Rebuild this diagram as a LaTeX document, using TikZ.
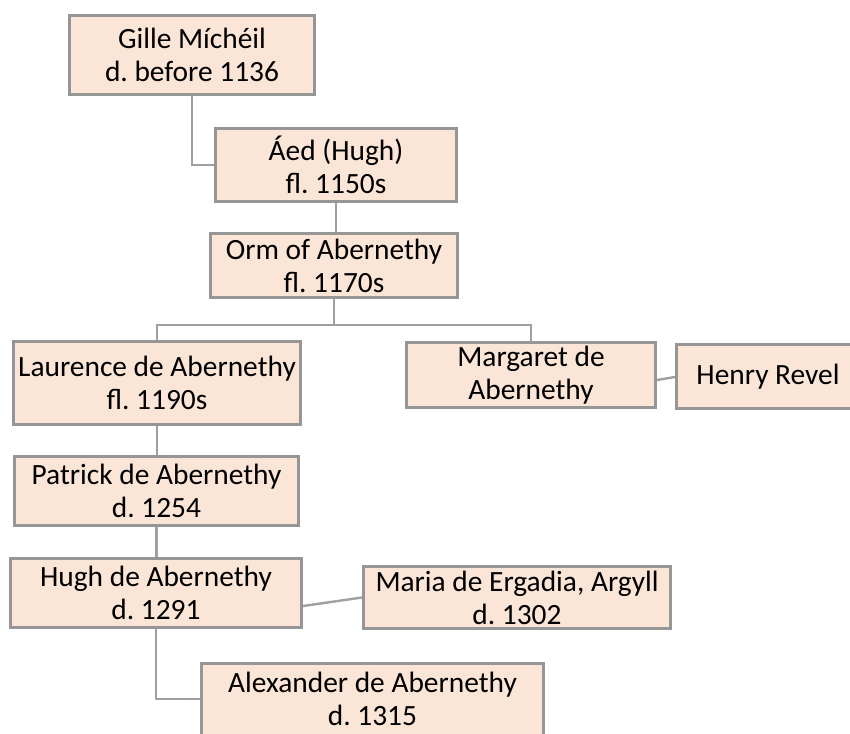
\documentclass[tikz,border=0pt]{standalone}
\usepackage{fontspec}
\setmainfont{Carlito}
\usetikzlibrary{calc}
\definecolor{boxfill}{HTML}{FBE5D6}
\definecolor{boxline}{HTML}{969696}
\definecolor{linkline}{HTML}{A0A0A0}
\frenchspacing

\begin{document}
\begin{tikzpicture}[x=0.5pt,y=-0.5pt,
        person/.style={draw=boxline,fill=boxfill,line width=1.5pt,inner sep=0pt,
            align=center,font=\fontsize{14.7}{16.5}\selectfont},
        link/.style={draw=linkline,line width=1.2pt}]
    \useasboundingbox (0,0) rectangle (850,733);
    \clip (0,0) rectangle (850,733);

    % people
    \node[person,minimum width=122.5pt,minimum height=39.5pt] (gille) at (192,55) {Gille Míchéil\\d. before 1136};
    \node[person,minimum width=120.5pt,minimum height=36.5pt] (aed) at (336,165) {Áed (Hugh)\\fl. 1150s};
    \node[person,minimum width=123.5pt,minimum height=32pt] (orm) at (334,265.5) {Orm of Abernethy\\fl. 1170s};
    \node[person,minimum width=143.5pt,minimum height=41.5pt] (laurence) at (157,383) {Laurence de Abernethy\\fl. 1190s};
    \node[person,minimum width=124.5pt,minimum height=32.5pt] (margaret) at (531,375) {Margaret de\\Abernethy};
    \node[person,minimum width=91.5pt,minimum height=32pt] (henry) at (768,376.5) {Henry Revel};
    \node[person,minimum width=142pt,minimum height=34.5pt] (patrick) at (156.5,491) {Patrick de Abernethy\\d. 1254};
    \node[person,minimum width=145.5pt,minimum height=34.5pt] (hugh) at (156,593) {Hugh de Abernethy\\d. 1291};
    \node[person,minimum width=153.5pt,minimum height=31pt] (maria) at (517,597.5) {Maria de Ergadia, Argyll\\d. 1302};
    \node[person,minimum width=171pt,minimum height=36pt] (alex) at (372.5,699) {Alexander de Abernethy\\d. 1315};

    \coordinate (bar) at (334,325);

    % links
    \begin{scope}[link]
        \draw (gille.south) |- (aed.west);
        \draw (aed.south) -- (aed.south |- orm.north);
        \draw (orm.south) -- (bar);
        \draw (laurence.north) |- (bar);
        \draw (margaret.north) |- (bar);
        \draw ($(margaret.east)+(0,5)$) -- ($(henry.west)+(0,0.5)$);
        \draw (laurence.south) -- (laurence.south |- patrick.north);
        \draw (patrick.south) -- (patrick.south |- hugh.north);
        \draw ($(hugh.east)+(0,13)$) -- (maria.west);
        \draw (hugh.south) |- (alex.west);
    \end{scope}
\end{tikzpicture}
\end{document}
